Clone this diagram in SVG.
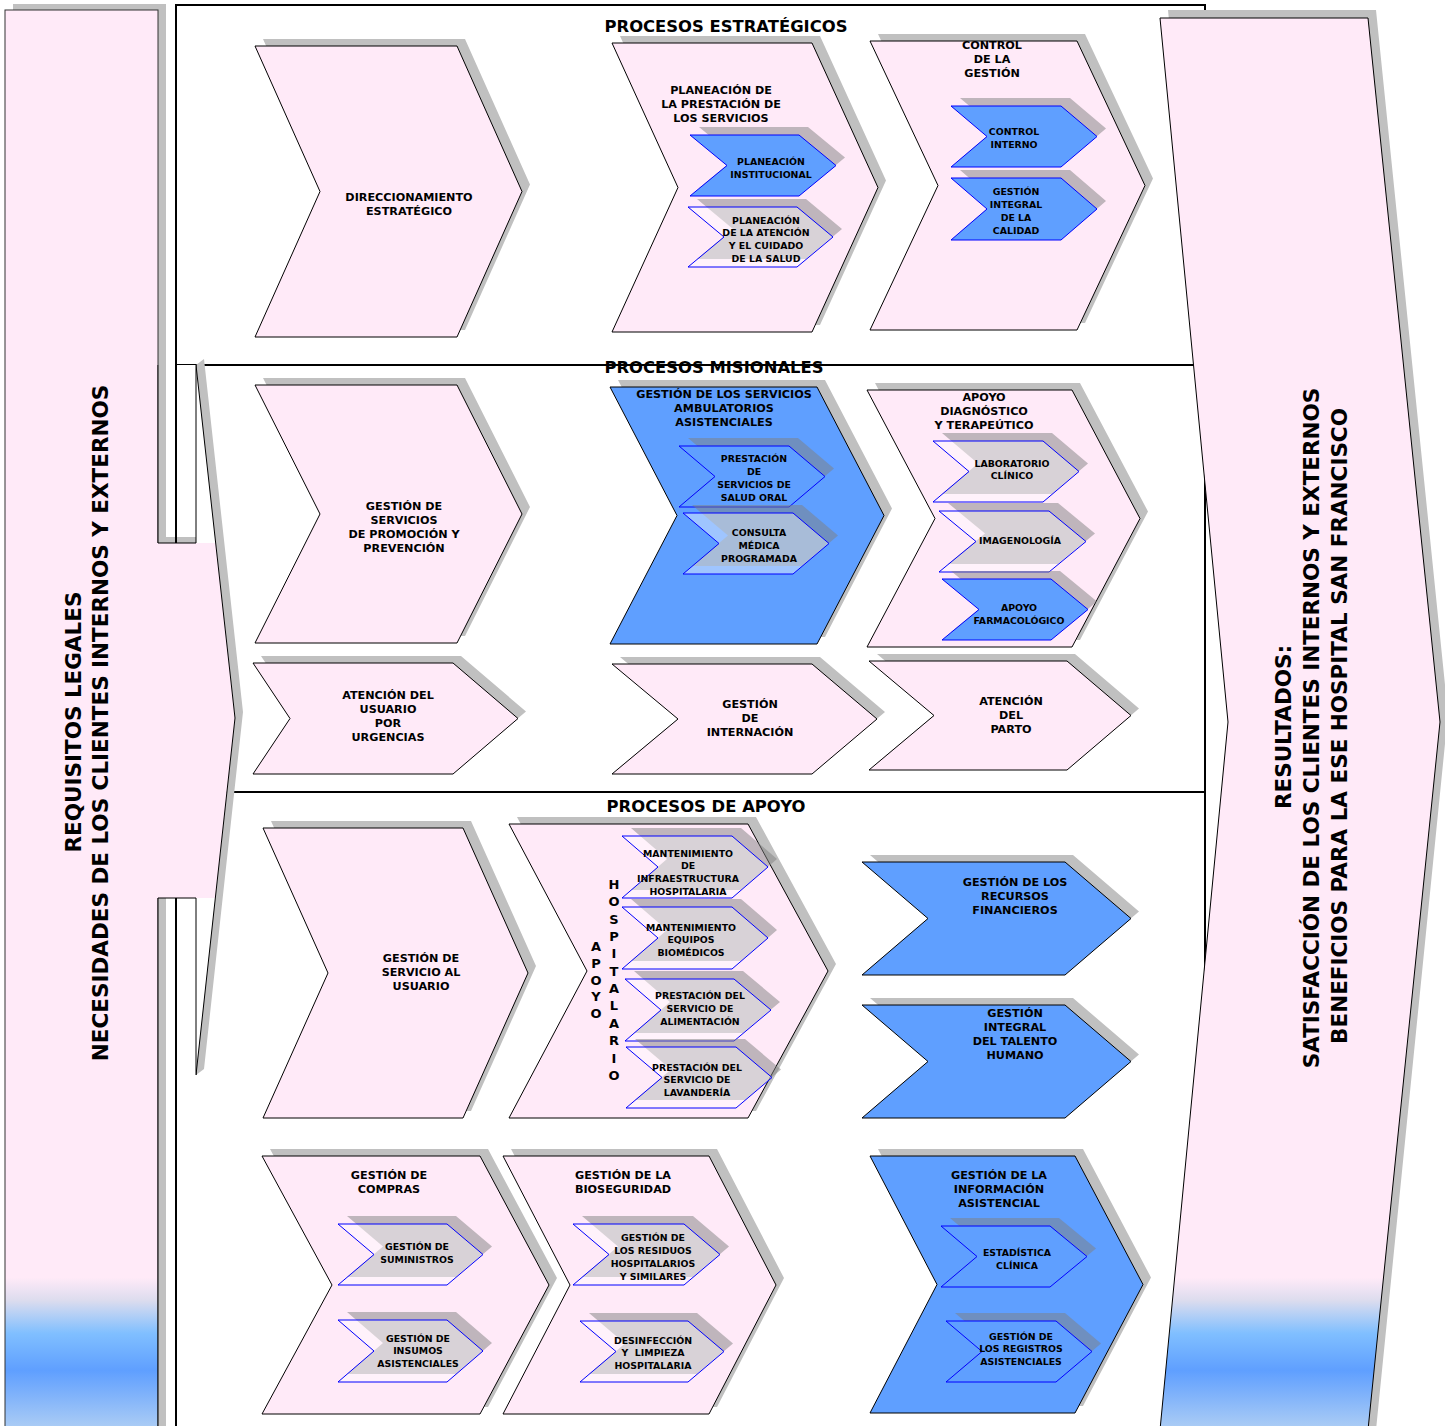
<svg xmlns="http://www.w3.org/2000/svg" width="1445" height="1426" viewBox="0 0 1445 1426">
<defs>
<linearGradient id="g" gradientUnits="userSpaceOnUse" x1="0" y1="0" x2="0" y2="1426">
<stop offset="0" stop-color="#ffeaf8"/>
<stop offset="0.896" stop-color="#ffeaf8"/>
<stop offset="0.912" stop-color="#dcdcee"/>
<stop offset="0.935" stop-color="#80bfff"/>
<stop offset="0.961" stop-color="#5f9fff"/>
<stop offset="1" stop-color="#a9cbf5"/>
</linearGradient>
<style>
.sh{fill:#c0c0c0}
.pk{fill:#ffeaf8;stroke:#000;stroke-width:1}
.bl{fill:#5f9fff;stroke:#000;stroke-width:1}
.ish{fill:#808080;fill-opacity:.5}
.ibl{fill:#5f9fff;stroke:#0000ff;stroke-width:1}
.itr{fill:#fff;fill-opacity:.4;stroke:#0000ff;stroke-width:1}
.t{font-family:"DejaVu Sans",Verdana,sans-serif;font-weight:bold;font-size:11.2px;text-anchor:middle;fill:#000}
.ti{font-size:9.4px}
.st{font-size:16.4px}
.bg{font-size:21.5px}
.ln{stroke:#000;stroke-width:2;fill:none}
.l1{stroke:#000;stroke-width:1;fill:none}
</style>
</defs>
<rect width="1445" height="1426" fill="#fff"/>

<g id="frame">
<rect x="176" y="5" width="1029" height="1430" fill="#fff" stroke="#000" stroke-width="2"/>
<line class="ln" x1="176" y1="365" x2="1205" y2="365"/>
<line class="ln" x1="176" y1="792" x2="1205" y2="792"/>
</g>

<g id="entradas">
<rect x="13" y="4" width="153" height="1430" class="sh"/>
<rect x="5" y="10" width="153" height="1430" fill="url(#g)" stroke="#333" stroke-width="1"/>
<polygon class="sh" points="196,365 235,718 196,1075 204,1069 243,712 204,359"/>
<polygon fill="#ffeaf8" points="150,543 215.7,543 235,718 215.3,898 150,898"/>
<polyline class="l1" points="196,365 235,718 196,1075"/>
<rect x="158.5" y="365" width="37.5" height="178" fill="#fff"/>
<rect x="158.5" y="365" width="7.5" height="178" class="sh"/>
<rect x="158.5" y="537" width="37.5" height="6" class="sh"/>
<polyline class="l1" points="158,365 158,543 196,543 196,365"/>
<line class="ln" x1="176" y1="365" x2="176" y2="543"/>
<rect x="158.5" y="898" width="37.5" height="530" fill="#fff"/>
<rect x="158.5" y="898" width="7.5" height="530" class="sh"/>
<polyline class="l1" points="158,1426 158,898 196,898 196,1075"/>
<line class="ln" x1="176" y1="898" x2="176" y2="1426"/>
<text class="t bg" transform="translate(81,722) rotate(-90)">REQUISITOS LEGALES</text>
<text class="t bg" transform="translate(108,723) rotate(-90)">NECESIDADES DE LOS CLIENTES INTERNOS Y EXTERNOS</text>
</g>

<g id="resultados">
<polygon class="sh" points="1168,10 1376,10 1448,714 1376,1430 1168,1430 1236,714"/>
<polygon points="1160,18 1368,18 1440,722 1368,1430 1160,1430 1228,722" fill="url(#g)" stroke="#000" stroke-width="1"/>
<text class="t bg" transform="translate(1291,727) rotate(-90)">RESULTADOS:</text>
<text class="t bg" transform="translate(1319,728) rotate(-90)">SATISFACCIÓN DE LOS CLIENTES INTERNOS Y EXTERNOS</text>
<text class="t bg" transform="translate(1347,726) rotate(-90)">BENEFICIOS PARA LA ESE HOSPITAL SAN FRANCISCO</text>
</g>

<g id="titulos">
<text class="t st" x="726" y="32">PROCESOS ESTRATÉGICOS</text>
<text class="t st" x="714" y="373">PROCESOS MISIONALES</text>
<text class="t st" x="706" y="812">PROCESOS DE APOYO</text>
</g>

<g id="direccionamiento">
<polygon class="sh" transform="translate(8,-7)" points="255,46 457,46 522,191.5 457,337 255,337 320,191.5"/>
<polygon class="pk" points="255,46 457,46 522,191.5 457,337 255,337 320,191.5"/>
<text class="t" x="409" y="201"><tspan x="409">DIRECCIONAMIENTO</tspan><tspan x="409" dy="14">ESTRATÉGICO</tspan></text>
</g>

<g id="planeacion">
<polygon class="sh" transform="translate(8,-7)" points="612,43 812,43 878,187.5 812,332 612,332 678,187.5"/>
<polygon class="pk" points="612,43 812,43 878,187.5 812,332 612,332 678,187.5"/>
<text class="t" x="721" y="94"><tspan x="721">PLANEACIÓN DE</tspan><tspan x="721" dy="14">LA PRESTACIÓN DE</tspan><tspan x="721" dy="14">LOS SERVICIOS</tspan></text>
</g>
<g id="planeacion-institucional">
<polygon class="ish" transform="translate(9,-8)" points="690,135 799,135 836,165.5 799,196 690,196 727,165.5"/>
<polygon class="ibl" points="690,135 799,135 836,165.5 799,196 690,196 727,165.5"/>
<text class="t ti" x="771" y="164.5"><tspan x="771">PLANEACIÓN</tspan><tspan x="771" dy="13">INSTITUCIONAL</tspan></text>
</g>
<g id="planeacion-atencion">
<polygon class="ish" transform="translate(9,-8)" points="688,207 797,207 833,237 797,267 688,267 724,237"/>
<polygon class="itr" points="688,207 797,207 833,237 797,267 688,267 724,237"/>
<text class="t ti" x="766" y="223.5"><tspan x="766">PLANEACIÓN</tspan><tspan x="766" dy="12.7">DE LA ATENCIÓN</tspan><tspan x="766" dy="12.7">Y EL CUIDADO</tspan><tspan x="766" dy="12.7">DE LA SALUD</tspan></text>
</g>

<g id="control-gestion">
<polygon class="sh" transform="translate(8,-7)" points="870,41 1077,41 1145,185.5 1077,330 870,330 938,185.5"/>
<polygon class="pk" points="870,41 1077,41 1145,185.5 1077,330 870,330 938,185.5"/>
<text class="t" x="992" y="49"><tspan x="992">CONTROL</tspan><tspan x="992" dy="14">DE LA</tspan><tspan x="992" dy="14">GESTIÓN</tspan></text>
</g>
<g id="control-interno">
<polygon class="ish" transform="translate(9,-8)" points="951,106 1061,106 1097,136.5 1061,167 951,167 987,136.5"/>
<polygon class="ibl" points="951,106 1061,106 1097,136.5 1061,167 951,167 987,136.5"/>
<text class="t ti" x="1014" y="134.5"><tspan x="1014">CONTROL</tspan><tspan x="1014" dy="13">INTERNO</tspan></text>
</g>
<g id="gestion-calidad">
<polygon class="ish" transform="translate(9,-8)" points="951,178 1061,178 1097,209 1061,240 951,240 987,209"/>
<polygon class="ibl" points="951,178 1061,178 1097,209 1061,240 951,240 987,209"/>
<text class="t ti" x="1016" y="194.5"><tspan x="1016">GESTIÓN</tspan><tspan x="1016" dy="13">INTEGRAL</tspan><tspan x="1016" dy="13">DE LA</tspan><tspan x="1016" dy="13">CALIDAD</tspan></text>
</g>

<g id="promocion">
<polygon class="sh" transform="translate(8,-7)" points="255,385 457,385 522,514 457,643 255,643 320,514"/>
<polygon class="pk" points="255,385 457,385 522,514 457,643 255,643 320,514"/>
<text class="t" x="404" y="510"><tspan x="404">GESTIÓN DE</tspan><tspan x="404" dy="14">SERVICIOS</tspan><tspan x="404" dy="14">DE PROMOCIÓN Y</tspan><tspan x="404" dy="14">PREVENCIÓN</tspan></text>
</g>

<g id="ambulatorios">
<polygon class="sh" transform="translate(8,-7)" points="610,387 817,387 884,515.5 817,644 610,644 677,515.5"/>
<polygon class="bl" points="610,387 817,387 884,515.5 817,644 610,644 677,515.5"/>
<text class="t" x="724" y="398"><tspan x="724">GESTIÓN DE LOS SERVICIOS</tspan><tspan x="724" dy="14">AMBULATORIOS</tspan><tspan x="724" dy="14">ASISTENCIALES</tspan></text>
</g>
<g id="salud-oral">
<polygon class="ish" transform="translate(9,-8)" points="679,446 789,446 825,476.5 789,507 679,507 715,476.5"/>
<polygon class="ibl" points="679,446 789,446 825,476.5 789,507 679,507 715,476.5"/>
<text class="t ti" x="754" y="461.5"><tspan x="754">PRESTACIÓN</tspan><tspan x="754" dy="13">DE</tspan><tspan x="754" dy="13">SERVICIOS DE</tspan><tspan x="754" dy="13">SALUD ORAL</tspan></text>
</g>
<g id="consulta">
<polygon class="ish" transform="translate(9,-8)" points="683,513 793,513 829,543.5 793,574 683,574 719,543.5"/>
<polygon class="itr" points="683,513 793,513 829,543.5 793,574 683,574 719,543.5"/>
<text class="t ti" x="759" y="535.5"><tspan x="759">CONSULTA</tspan><tspan x="759" dy="13">MÉDICA</tspan><tspan x="759" dy="13">PROGRAMADA</tspan></text>
</g>

<g id="apoyo-diagnostico">
<polygon class="sh" transform="translate(8,-7)" points="867,390 1072,390 1140,518.5 1072,647 867,647 935,518.5"/>
<polygon class="pk" points="867,390 1072,390 1140,518.5 1072,647 867,647 935,518.5"/>
<text class="t" x="984" y="401"><tspan x="984">APOYO</tspan><tspan x="984" dy="14">DIAGNÓSTICO</tspan><tspan x="984" dy="14">Y TERAPEÚTICO</tspan></text>
</g>
<g id="laboratorio">
<polygon class="ish" transform="translate(9,-8)" points="933,441 1043,441 1079,471.5 1043,502 933,502 969,471.5"/>
<polygon class="itr" points="933,441 1043,441 1079,471.5 1043,502 933,502 969,471.5"/>
<text class="t ti" x="1012" y="466.5"><tspan x="1012">LABORATORIO</tspan><tspan x="1012" dy="12">CLÍNICO</tspan></text>
</g>
<g id="imagenologia">
<polygon class="ish" transform="translate(9,-8)" points="939,511 1049,511 1086,541.5 1049,572 939,572 976,541.5"/>
<polygon class="itr" points="939,511 1049,511 1086,541.5 1049,572 939,572 976,541.5"/>
<text class="t ti" x="1020" y="543.5">IMAGENOLOGÍA</text>
</g>
<g id="farmacologico">
<polygon class="ish" transform="translate(9,-8)" points="942,579 1051,579 1088,609.5 1051,640 942,640 979,609.5"/>
<polygon class="ibl" points="942,579 1051,579 1088,609.5 1051,640 942,640 979,609.5"/>
<text class="t ti" x="1019" y="610.5"><tspan x="1019">APOYO</tspan><tspan x="1019" dy="13">FARMACOLÓGICO</tspan></text>
</g>

<g id="urgencias">
<polygon class="sh" transform="translate(8,-7)" points="253,663 453,663 518,718.5 453,774 253,774 290,718.5"/>
<polygon class="pk" points="253,663 453,663 518,718.5 453,774 253,774 290,718.5"/>
<text class="t" x="388" y="699"><tspan x="388">ATENCIÓN DEL</tspan><tspan x="388" dy="14">USUARIO</tspan><tspan x="388" dy="14">POR</tspan><tspan x="388" dy="14">URGENCIAS</tspan></text>
</g>

<g id="internacion">
<polygon class="sh" transform="translate(8,-7)" points="612,664 812,664 877,719 812,774 612,774 678,719"/>
<polygon class="pk" points="612,664 812,664 877,719 812,774 612,774 678,719"/>
<text class="t" x="750" y="708"><tspan x="750">GESTIÓN</tspan><tspan x="750" dy="14">DE</tspan><tspan x="750" dy="14">INTERNACIÓN</tspan></text>
</g>

<g id="parto">
<polygon class="sh" transform="translate(8,-7)" points="869,661 1067,661 1131,715.5 1067,770 869,770 934,715.5"/>
<polygon class="pk" points="869,661 1067,661 1131,715.5 1067,770 869,770 934,715.5"/>
<text class="t" x="1011" y="705"><tspan x="1011">ATENCIÓN</tspan><tspan x="1011" dy="14">DEL</tspan><tspan x="1011" dy="14">PARTO</tspan></text>
</g>

<g id="servicio-usuario">
<polygon class="sh" transform="translate(8,-7)" points="263,828 463,828 528,973 463,1118 263,1118 328,973"/>
<polygon class="pk" points="263,828 463,828 528,973 463,1118 263,1118 328,973"/>
<text class="t" x="421" y="962"><tspan x="421">GESTIÓN DE</tspan><tspan x="421" dy="14">SERVICIO AL</tspan><tspan x="421" dy="14">USUARIO</tspan></text>
</g>

<g id="apoyo-hospitalario">
<polygon class="sh" transform="translate(8,-7)" points="509,824 748,824 828,971 748,1118 509,1118 587,971"/>
<polygon class="pk" points="509,824 748,824 828,971 748,1118 509,1118 587,971"/>
<text class="t" style="font-size:13px" x="596" y="951"><tspan x="596">A</tspan><tspan x="596" dy="16.8">P</tspan><tspan x="596" dy="16.8">O</tspan><tspan x="596" dy="16.8">Y</tspan><tspan x="596" dy="16.8">O</tspan></text>
<text class="t" style="font-size:13px" x="614" y="889"><tspan x="614">H</tspan><tspan x="614" dy="17.35">O</tspan><tspan x="614" dy="17.35">S</tspan><tspan x="614" dy="17.35">P</tspan><tspan x="614" dy="17.35">I</tspan><tspan x="614" dy="17.35">T</tspan><tspan x="614" dy="17.35">A</tspan><tspan x="614" dy="17.35">L</tspan><tspan x="614" dy="17.35">A</tspan><tspan x="614" dy="17.35">R</tspan><tspan x="614" dy="17.35">I</tspan><tspan x="614" dy="17.35">O</tspan></text>
</g>
<g id="mant-infraestructura">
<polygon class="ish" transform="translate(9,-8)" points="622,836 732,836 768,867 732,898 622,898 658,867"/>
<polygon class="itr" points="622,836 732,836 768,867 732,898 622,898 658,867"/>
<text class="t ti" x="688" y="856.5"><tspan x="688">MANTENIMIENTO</tspan><tspan x="688" dy="12.7">DE</tspan><tspan x="688" dy="12.7">INFRAESTRUCTURA</tspan><tspan x="688" dy="12.7">HOSPITALARIA</tspan></text>
</g>
<g id="mant-equipos">
<polygon class="ish" transform="translate(9,-8)" points="622,907 732,907 768,938 732,969 622,969 658,938"/>
<polygon class="itr" points="622,907 732,907 768,938 732,969 622,969 658,938"/>
<text class="t ti" x="691" y="930.5"><tspan x="691">MANTENIMIENTO</tspan><tspan x="691" dy="12.5">EQUIPOS</tspan><tspan x="691" dy="12.5">BIOMÉDICOS</tspan></text>
</g>
<g id="alimentacion">
<polygon class="ish" transform="translate(9,-8)" points="625,979 734,979 771,1010 734,1041 625,1041 661,1010"/>
<polygon class="itr" points="625,979 734,979 771,1010 734,1041 625,1041 661,1010"/>
<text class="t ti" x="700" y="998.5"><tspan x="700">PRESTACIÓN DEL</tspan><tspan x="700" dy="13">SERVICIO DE</tspan><tspan x="700" dy="13">ALIMENTACIÓN</tspan></text>
</g>
<g id="lavanderia">
<polygon class="ish" transform="translate(9,-8)" points="626,1047 736,1047 772,1077.5 736,1108 626,1108 662,1077.5"/>
<polygon class="itr" points="626,1047 736,1047 772,1077.5 736,1108 626,1108 662,1077.5"/>
<text class="t ti" x="697" y="1070.5"><tspan x="697">PRESTACIÓN DEL</tspan><tspan x="697" dy="12.5">SERVICIO DE</tspan><tspan x="697" dy="12.5">LAVANDERÍA</tspan></text>
</g>

<g id="financieros">
<polygon class="sh" transform="translate(8,-7)" points="862,862 1065,862 1131,918.5 1065,975 862,975 928,918.5"/>
<polygon class="bl" points="862,862 1065,862 1131,918.5 1065,975 862,975 928,918.5"/>
<text class="t" x="1015" y="886"><tspan x="1015">GESTIÓN DE LOS</tspan><tspan x="1015" dy="14">RECURSOS</tspan><tspan x="1015" dy="14">FINANCIEROS</tspan></text>
</g>

<g id="talento-humano">
<polygon class="sh" transform="translate(8,-7)" points="862,1005 1065,1005 1131,1061.5 1065,1118 862,1118 928,1061.5"/>
<polygon class="bl" points="862,1005 1065,1005 1131,1061.5 1065,1118 862,1118 928,1061.5"/>
<text class="t" x="1015" y="1017"><tspan x="1015">GESTIÓN</tspan><tspan x="1015" dy="14">INTEGRAL</tspan><tspan x="1015" dy="14">DEL TALENTO</tspan><tspan x="1015" dy="14">HUMANO</tspan></text>
</g>

<g id="compras">
<polygon class="sh" transform="translate(8,-7)" points="262,1156 480,1156 549,1285 480,1414 262,1414 332,1285"/>
<polygon class="pk" points="262,1156 480,1156 549,1285 480,1414 262,1414 332,1285"/>
<text class="t" x="389" y="1179"><tspan x="389">GESTIÓN DE</tspan><tspan x="389" dy="14">COMPRAS</tspan></text>
</g>
<g id="suministros">
<polygon class="ish" transform="translate(9,-8)" points="338,1224 447,1224 483,1254.5 447,1285 338,1285 374,1254.5"/>
<polygon class="itr" points="338,1224 447,1224 483,1254.5 447,1285 338,1285 374,1254.5"/>
<text class="t ti" x="417" y="1249.5"><tspan x="417">GESTIÓN DE</tspan><tspan x="417" dy="13">SUMINISTROS</tspan></text>
</g>
<g id="insumos">
<polygon class="ish" transform="translate(9,-8)" points="338,1320 447,1320 483,1351 447,1382 338,1382 374,1351"/>
<polygon class="itr" points="338,1320 447,1320 483,1351 447,1382 338,1382 374,1351"/>
<text class="t ti" x="418" y="1341.5"><tspan x="418">GESTIÓN DE</tspan><tspan x="418" dy="12.5">INSUMOS</tspan><tspan x="418" dy="12.5">ASISTENCIALES</tspan></text>
</g>

<g id="bioseguridad">
<polygon class="sh" transform="translate(8,-7)" points="503,1156 709,1156 776,1285 709,1414 503,1414 570,1285"/>
<polygon class="pk" points="503,1156 709,1156 776,1285 709,1414 503,1414 570,1285"/>
<text class="t" x="623" y="1179"><tspan x="623">GESTIÓN DE LA</tspan><tspan x="623" dy="14">BIOSEGURIDAD</tspan></text>
</g>
<g id="residuos">
<polygon class="ish" transform="translate(9,-8)" points="573,1224 684,1224 720,1254.5 684,1285 573,1285 609,1254.5"/>
<polygon class="itr" points="573,1224 684,1224 720,1254.5 684,1285 573,1285 609,1254.5"/>
<text class="t ti" x="653" y="1240.5"><tspan x="653">GESTIÓN DE</tspan><tspan x="653" dy="13">LOS RESIDUOS</tspan><tspan x="653" dy="13">HOSPITALARIOS</tspan><tspan x="653" dy="13">Y SIMILARES</tspan></text>
</g>
<g id="desinfeccion">
<polygon class="ish" transform="translate(9,-8)" points="580,1321 688,1321 724,1351.5 688,1382 580,1382 616,1351.5"/>
<polygon class="itr" points="580,1321 688,1321 724,1351.5 688,1382 580,1382 616,1351.5"/>
<text class="t ti" x="653" y="1343.5" style="white-space:pre"><tspan x="653">DESINFECCIÓN</tspan><tspan x="653" dy="12.5">Y  LIMPIEZA</tspan><tspan x="653" dy="12.5">HOSPITALARIA</tspan></text>
</g>

<g id="informacion">
<polygon class="sh" transform="translate(8,-7)" points="870,1156 1075,1156 1143,1284.5 1075,1413 870,1413 937,1284.5"/>
<polygon class="bl" points="870,1156 1075,1156 1143,1284.5 1075,1413 870,1413 937,1284.5"/>
<text class="t" x="999" y="1179"><tspan x="999">GESTIÓN DE LA</tspan><tspan x="999" dy="14">INFORMACIÓN</tspan><tspan x="999" dy="14">ASISTENCIAL</tspan></text>
</g>
<g id="estadistica">
<polygon class="ish" transform="translate(9,-8)" points="941,1226 1050,1226 1087,1256.5 1050,1287 941,1287 977,1256.5"/>
<polygon class="ibl" points="941,1226 1050,1226 1087,1256.5 1050,1287 941,1287 977,1256.5"/>
<text class="t ti" x="1017" y="1255.5"><tspan x="1017">ESTADÍSTICA</tspan><tspan x="1017" dy="13">CLÍNICA</tspan></text>
</g>
<g id="registros">
<polygon class="ish" transform="translate(9,-8)" points="946,1321 1056,1321 1092,1351.5 1056,1382 946,1382 982,1351.5"/>
<polygon class="ibl" points="946,1321 1056,1321 1092,1351.5 1056,1382 946,1382 982,1351.5"/>
<text class="t ti" x="1021" y="1339.5"><tspan x="1021">GESTIÓN DE</tspan><tspan x="1021" dy="12.5">LOS REGISTROS</tspan><tspan x="1021" dy="12.5">ASISTENCIALES</tspan></text>
</g>
</svg>
